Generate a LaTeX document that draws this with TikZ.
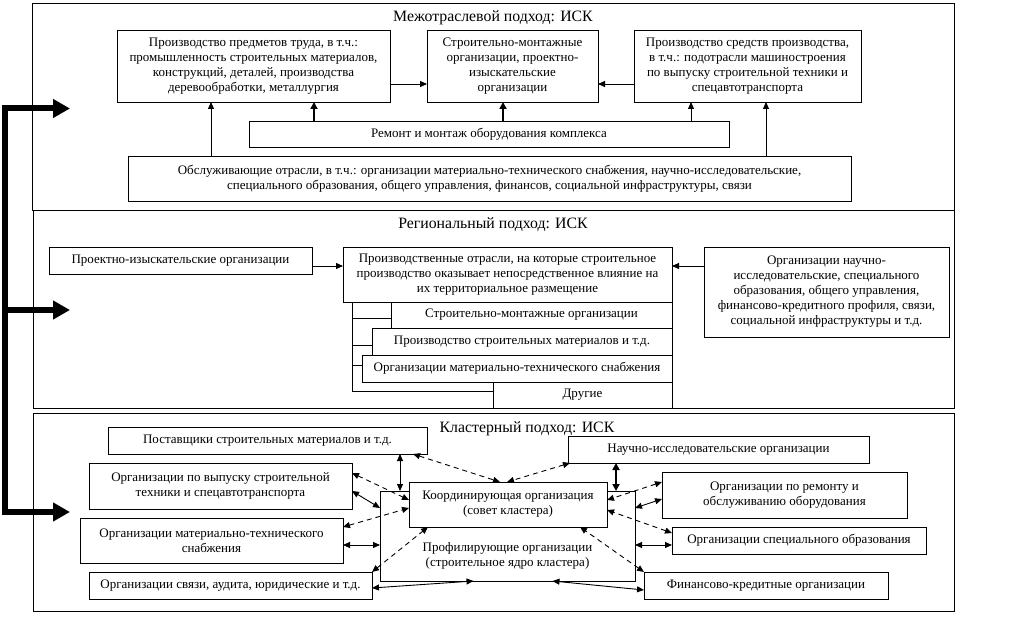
\documentclass[tikz,border=0pt]{standalone}
\usepackage{fontspec}
\setmainfont{Liberation Serif}
\usetikzlibrary{arrows.meta}
\begin{document}
\begin{tikzpicture}[x=1pt,y=-1pt,
  every node/.style={inner sep=0pt, outer sep=0pt},
  frame/.style={draw, line width=0.9pt},
  box/.style={draw, line width=0.9pt, fill=white, align=center,
    font=\fontsize{13}{15}\selectfont},
  plain/.style={align=center, font=\fontsize{13}{15}\selectfont},
  ttl/.style={font=\fontsize{15.8}{17}\selectfont},
  arr/.style={line width=0.9pt, -{Triangle[length=7pt,width=6pt]}},
  arrb/.style={line width=1.8pt, -{Triangle[length=7pt,width=7pt]}},
  dbl/.style={line width=0.9pt, {Triangle[length=7pt,width=6pt]}-{Triangle[length=7pt,width=6pt]}},
  dblb/.style={line width=1.8pt, {Triangle[length=7pt,width=7pt]}-{Triangle[length=7pt,width=7pt]}},
  dsh/.style={line width=0.9pt, dash pattern=on 5pt off 4pt,
    {Triangle[length=7pt,width=6pt]}-{Triangle[length=7pt,width=6pt]}},
  big/.style={line width=6pt, line join=miter}
]
\useasboundingbox (0,0) rectangle (1009,617);

% ---------- frames ----------
\node[frame, minimum width=922pt, minimum height=207pt] (frameT) at (493,106.5) {};
\node[frame, minimum width=921pt, minimum height=198pt] (frameM) at (493.5,309) {};
\node[frame, minimum width=921pt, minimum height=198pt] (frameB) at (493.5,512.5) {};

% ---------- top section ----------
\node[ttl] (tT) at (493,18) {Межотраслевой подход: ИСК};
\node[box, minimum width=273pt, minimum height=72pt] (A) at (253.5,66)
  {Производство предметов труда, в т.ч.:\\промышленность строительных материалов,\\конструкций, деталей, производства\\деревообработки, металлургия};
\node[box, minimum width=171pt, minimum height=72pt] (B) at (512.5,66)
  {Строительно-монтажные\\организации, проектно-\\изыскательские\\организации};
\node[box, minimum width=227pt, minimum height=72pt] (C) at (747.5,66)
  {Производство средств производства,\\в т.ч.: подотрасли машиностроения\\по выпуску строительной техники и\\спецавтотранспорта};
\node[box, minimum width=480pt, minimum height=26pt] (R) at (489,134)
  {Ремонт и монтаж оборудования комплекса};
\node[box, minimum width=723pt, minimum height=45pt] (S) at (489.5,178.5)
  {Обслуживающие отрасли, в т.ч.: организации материально-технического снабжения, научно-исследовательские,\\специального образования, общего управления, финансов, социальной инфраструктуры, связи};

\draw[arr] ([yshift=-18pt]A.east) -- ([yshift=-18pt]B.west);
\draw[arr] ([yshift=-18pt]C.west) -- ([yshift=-18pt]B.east);
\draw[arr] ([xshift=-278.5pt]S.north) -- ([xshift=-278.5pt]S.north |- A.south);
\draw[arrb] ([xshift=-175pt]R.north) -- ([xshift=-175pt]R.north |- A.south);
\draw[arrb] ([xshift=14pt]R.north) -- ([xshift=14pt]R.north |- B.south);
\draw[arr] ([xshift=202pt]R.north) -- ([xshift=202pt]R.north |- C.south);
\draw[arr] ([xshift=276.5pt]S.north) -- ([xshift=276.5pt]S.north |- C.south);

% ---------- middle section ----------
\node[ttl] (tM) at (493,225) {Региональный подход: ИСК};
\node[box, minimum width=263pt, minimum height=27pt] (P) at (180.5,260.5)
  {Проектно-изыскательские организации};
\node[box, minimum width=329pt, minimum height=55pt] (M) at (507.5,274.5)
  {Производственные отрасли, на которые строительное\\производство оказывает непосредственное влияние на\\их территориальное размещение};
\node[box, minimum width=245pt, minimum height=90pt] (N) at (826.5,292)
  {Организации научно-\\исследовательские, специального\\образования, общего управления,\\финансово-кредитного профиля, связи,\\социальной инфраструктуры и т.д.};
\node[box, minimum width=281pt, minimum height=26pt] (S1) at (531.5,315)
  {Строительно-монтажные организации};
\node[box, minimum width=300pt, minimum height=27pt] (S2) at (522,341.5)
  {Производство строительных материалов и т.д.};
\node[box, minimum width=310pt, minimum height=27pt] (S3) at (517,368.5)
  {Организации материально-технического снабжения};
\node[box, minimum width=179pt, minimum height=26pt] (S4) at (582.5,395)
  {Другие};

\draw[arr] ([yshift=-5.5pt]P.east) -- ([yshift=-5.5pt]P.east -| M.west);
\draw[arr] ([yshift=26pt]N.west) -- ([yshift=26pt]N.west -| M.east);

\coordinate (brk) at ([xshift=9pt]M.south west);
\coordinate (s1w) at ([yshift=-3pt]S1.west);
\coordinate (s2w) at ([yshift=-3.5pt]S2.west);
\coordinate (s3w) at ([yshift=3.5pt]S3.west);
\coordinate (s4w) at ([yshift=4pt]S4.west);
\draw[line width=0.9pt] (brk) |- (s4w);
\draw[line width=0.9pt] (brk |- s1w) -- (s1w);
\draw[line width=0.9pt] (brk |- s2w) -- (s2w);
\draw[line width=0.9pt] (brk |- s3w) -- (s3w);

% ---------- bottom section ----------
\node[ttl] (tB) at (527,429) {Кластерный подход: ИСК};
\node[box, minimum width=319pt, minimum height=27pt] (K1) at (267.5,440.5)
  {Поставщики строительных материалов и т.д.};
\node[box, minimum width=263pt, minimum height=46pt] (K2) at (220.5,486)
  {Организации по выпуску строительной\\техники и спецавтотранспорта};
\node[box, minimum width=263pt, minimum height=45pt] (K3) at (211.5,540.5)
  {Организации материально-технического\\снабжения};
\node[box, minimum width=283pt, minimum height=27pt] (K4) at (230.5,585.5)
  {Организации связи, аудита, юридические и т.д.};
\node[box, minimum width=301pt, minimum height=27pt] (K5) at (718.5,449.5)
  {Научно-исследовательские организации};
\node[box, minimum width=245pt, minimum height=46pt] (K6) at (784.5,495)
  {Организации по ремонту и\\обслуживанию оборудования};
\node[box, minimum width=254pt, minimum height=27pt] (K7) at (799,540.5)
  {Организации специального образования};
\node[box, minimum width=244pt, minimum height=27pt] (K8) at (766,585.5)
  {Финансово-кредитные организации};

\node[box, minimum width=255pt, minimum height=90pt] (BIG) at (507.5,536) {};
\node[plain] (BIGt) at (507.5,556) {Профилирующие организации\\(строительное ядро кластера)};
\node[box, minimum width=198pt, minimum height=45pt] (CO) at (508,504.5)
  {Координирующая организация\\(совет кластера)};

% solid double arrows
\draw[dbl] ([xshift=132.5pt]K1.south) -- ([xshift=132.5pt]K1.south |- BIG.north);
\draw[dblb] ([xshift=-102.5pt]K5.south) -- ([xshift=-102.5pt]K5.south |- BIG.north);
\draw[dbl] ([yshift=-5pt]K2.east) -- ([yshift=28pt]BIG.west);
\draw[dbl] ([yshift=-4.5pt]K3.east) -- ([yshift=-4.5pt]K3.east -| BIG.west);
\draw[dbl] ([yshift=-2.5pt]K4.east) -- ([xshift=-34pt]BIG.south);
\draw[dbl] ([xshift=45pt]BIG.south) -- ([yshift=-4.5pt]K8.west);
\draw[dbl] ([yshift=28pt]BIG.east) -- ([yshift=-4pt]K6.west);
\draw[dbl] ([yshift=-4.5pt]K7.west) -- ([yshift=-4.5pt]K7.west -| BIG.east);

% dashed double arrows
\draw[dsh] ([xshift=-14pt]K1.south east) -- ([xshift=-8pt]CO.north);
\draw[dsh] ([xshift=2pt]K5.south west) -- ([xshift=-1pt]CO.north);
\draw[dsh] ([yshift=13pt]K2.east) -- ([yshift=4.5pt]CO.west);
\draw[dsh] ([yshift=13.5pt]K3.east) -- ([yshift=-3.5pt]CO.west);
\draw[dsh] (K4.north east) -- ([xshift=-80pt]CO.south);
\draw[dsh] ([yshift=13pt]K6.west) -- ([yshift=4.5pt]CO.east);
\draw[dsh] ([yshift=7.5pt]K7.west) -- ([yshift=-5.5pt]CO.east);
\draw[dsh] (K8.north west) -- ([xshift=72pt]CO.south);

% ---------- big left arrow ----------
\coordinate (c1) at (4.5,108.5);
\coordinate (c2) at (4.5,310);
\coordinate (c3) at (4.5,512);
\coordinate (e1) at (70,108.5);
\coordinate (e2) at (70,310);
\coordinate (e3) at (70,512);
\draw[big, {Triangle[length=17pt,width=18pt]}-{Triangle[length=17pt,width=18pt]}] (e1) -- (c1) -- (c3) -- (e3);
\draw[big, -{Triangle[length=17pt,width=18pt]}] ([xshift=-3pt]c2) -- (e2);
\end{tikzpicture}
\end{document}
